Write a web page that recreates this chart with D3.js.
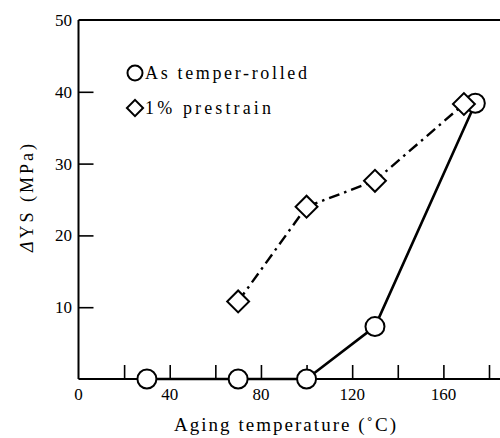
<!DOCTYPE html>
<html>

<head>
    <meta http-equiv="Content-Type" content="text/html; charset=utf-8">
    <title>Aging temperature vs delta YS</title>
    <style type="text/css">
        body {
            margin: 0;
            background: #fff;
        }
        text {
            font-family: "Liberation Serif", "Times New Roman", serif;
        }
    </style>
</head>

<body>
    <script src="https://cdn.jsdelivr.net/npm/d3@7"></script>
    <script>
        // data
        var tempAsRolled = [30, 70, 100, 130, 174];
        var ysAsRolled = [0, 0, 0, 7.3, 38.4];
        var tempPrestrain = [70, 100, 130, 169];
        var ysPrestrain = [10.8, 24.0, 27.6, 38.3];
        var xTicks = [20, 40, 60, 80, 100, 120, 140, 160, 180];
        var xTickLabels = [0, 40, 80, 120, 160];
        var yTicks = [10, 20, 30, 40];
        var yTickLabels = [0, 10, 20, 30, 40, 50];
        var legendNames = ["As temper-rolled", "1% prestrain"];

        var width = 500,
            height = 438;

        var x = d3.scaleLinear().domain([0, 180]).range([78.5, 489]);
        var y = d3.scaleLinear().domain([0, 50]).range([379, 20]);

        var svg = d3.select("body").append("svg")
            .attr("width", width)
            .attr("height", height);

        // frame: left axis, bottom axis, top line
        svg.append("line")
            .attr("x1", x(0)).attr("x2", x(0))
            .attr("y1", y(50)).attr("y2", y(0))
            .attr("stroke", "#000").attr("stroke-width", 2);
        svg.append("line")
            .attr("x1", x(0)).attr("x2", 500)
            .attr("y1", y(0)).attr("y2", y(0))
            .attr("stroke", "#000").attr("stroke-width", 2);
        svg.append("line")
            .attr("x1", x(0)).attr("x2", 500)
            .attr("y1", y(50)).attr("y2", y(50))
            .attr("stroke", "#000").attr("stroke-width", 2);

        // inward ticks
        var xAxis = d3.axisTop(x).tickValues(xTicks).tickSize(14).tickFormat("");
        svg.append("g")
            .attr("transform", "translate(0," + y(0) + ")")
            .call(xAxis)
            .call(function (g) { g.select(".domain").remove(); })
            .selectAll("line").attr("stroke-width", 1.6);

        var yAxis = d3.axisRight(y).tickValues(yTicks).tickSize(15).tickFormat("");
        svg.append("g")
            .attr("transform", "translate(" + x(0) + ",0)")
            .call(yAxis)
            .call(function (g) { g.select(".domain").remove(); })
            .selectAll("line").attr("stroke-width", 1.6);

        // tick labels
        svg.selectAll(".xlab")
            .data(xTickLabels)
            .enter().append("text")
            .attr("class", "xlab")
            .attr("x", function (d) { return x(d); })
            .attr("y", 400)
            .attr("text-anchor", "middle")
            .style("font-size", "17px")
            .text(function (d) { return d; });

        svg.selectAll(".ylab")
            .data(yTickLabels.filter(function (d) { return d > 0; }))
            .enter().append("text")
            .attr("class", "ylab")
            .attr("x", 72)
            .attr("y", function (d) { return y(d); })
            .attr("dy", "0.35em")
            .attr("text-anchor", "end")
            .style("font-size", "17px")
            .text(function (d) { return d; });

        // axis titles
        svg.append("text")
            .attr("x", 285)
            .attr("y", 431)
            .attr("text-anchor", "middle")
            .attr("textLength", 222)
            .attr("lengthAdjust", "spacing")
            .style("font-size", "19px")
            .text("Aging temperature (\u02daC)");

        var yt = svg.append("text")
            .attr("transform", "translate(33,198) rotate(-90)")
            .attr("text-anchor", "middle")
            .attr("textLength", 108)
            .attr("lengthAdjust", "spacing")
            .style("font-size", "18px");
        yt.append("tspan").style("font-style", "italic").text("\u0394");
        yt.append("tspan").text("YS (MPa)");

        // series
        var rolled = tempAsRolled.map(function (t, i) { return [t, ysAsRolled[i]]; });
        var pre = tempPrestrain.map(function (t, i) { return [t, ysPrestrain[i]]; });

        var line = d3.line()
            .x(function (d) { return x(d[0]); })
            .y(function (d) { return y(d[1]); });

        svg.append("path")
            .attr("d", line(rolled))
            .attr("fill", "none")
            .attr("stroke", "#000")
            .attr("stroke-width", 2.6);

        svg.selectAll(".circ")
            .data(rolled)
            .enter().append("circle")
            .attr("class", "circ")
            .attr("cx", function (d) { return x(d[0]); })
            .attr("cy", function (d) { return y(d[1]); })
            .attr("r", 9.5)
            .attr("fill", "#fff")
            .attr("stroke", "#000")
            .attr("stroke-width", 2);

        svg.append("path")
            .attr("d", line(pre))
            .attr("fill", "none")
            .attr("stroke", "#000")
            .attr("stroke-width", 2.4)
            .attr("stroke-dasharray", "11,5,2.5,5");

        var diamond = d3.symbol().type(d3.symbolSquare).size(240);
        svg.selectAll(".diam")
            .data(pre)
            .enter().append("path")
            .attr("class", "diam")
            .attr("d", diamond)
            .attr("transform", function (d) {
                return "translate(" + x(d[0]) + "," + y(d[1]) + ") rotate(45)";
            })
            .attr("fill", "#fff")
            .attr("stroke", "#000")
            .attr("stroke-width", 2);

        // legend
        var legendWidths = [162, 126];
        var leg = svg.append("g");
        leg.append("circle")
            .attr("cx", 135).attr("cy", 73).attr("r", 7.5)
            .attr("fill", "#fff").attr("stroke", "#000").attr("stroke-width", 2);
        leg.append("path")
            .attr("d", d3.symbol().type(d3.symbolSquare).size(130))
            .attr("transform", "translate(135,108) rotate(45)")
            .attr("fill", "#fff").attr("stroke", "#000").attr("stroke-width", 2);
        leg.selectAll("text")
            .data(legendNames)
            .enter().append("text")
            .attr("x", 145)
            .attr("y", function (d, i) { return 79 + i * 35; })
            .attr("textLength", function (d, i) { return legendWidths[i]; })
            .attr("lengthAdjust", "spacing")
            .style("font-size", "18px")
            .text(function (d) { return d; });
    </script>
</body>

</html>
